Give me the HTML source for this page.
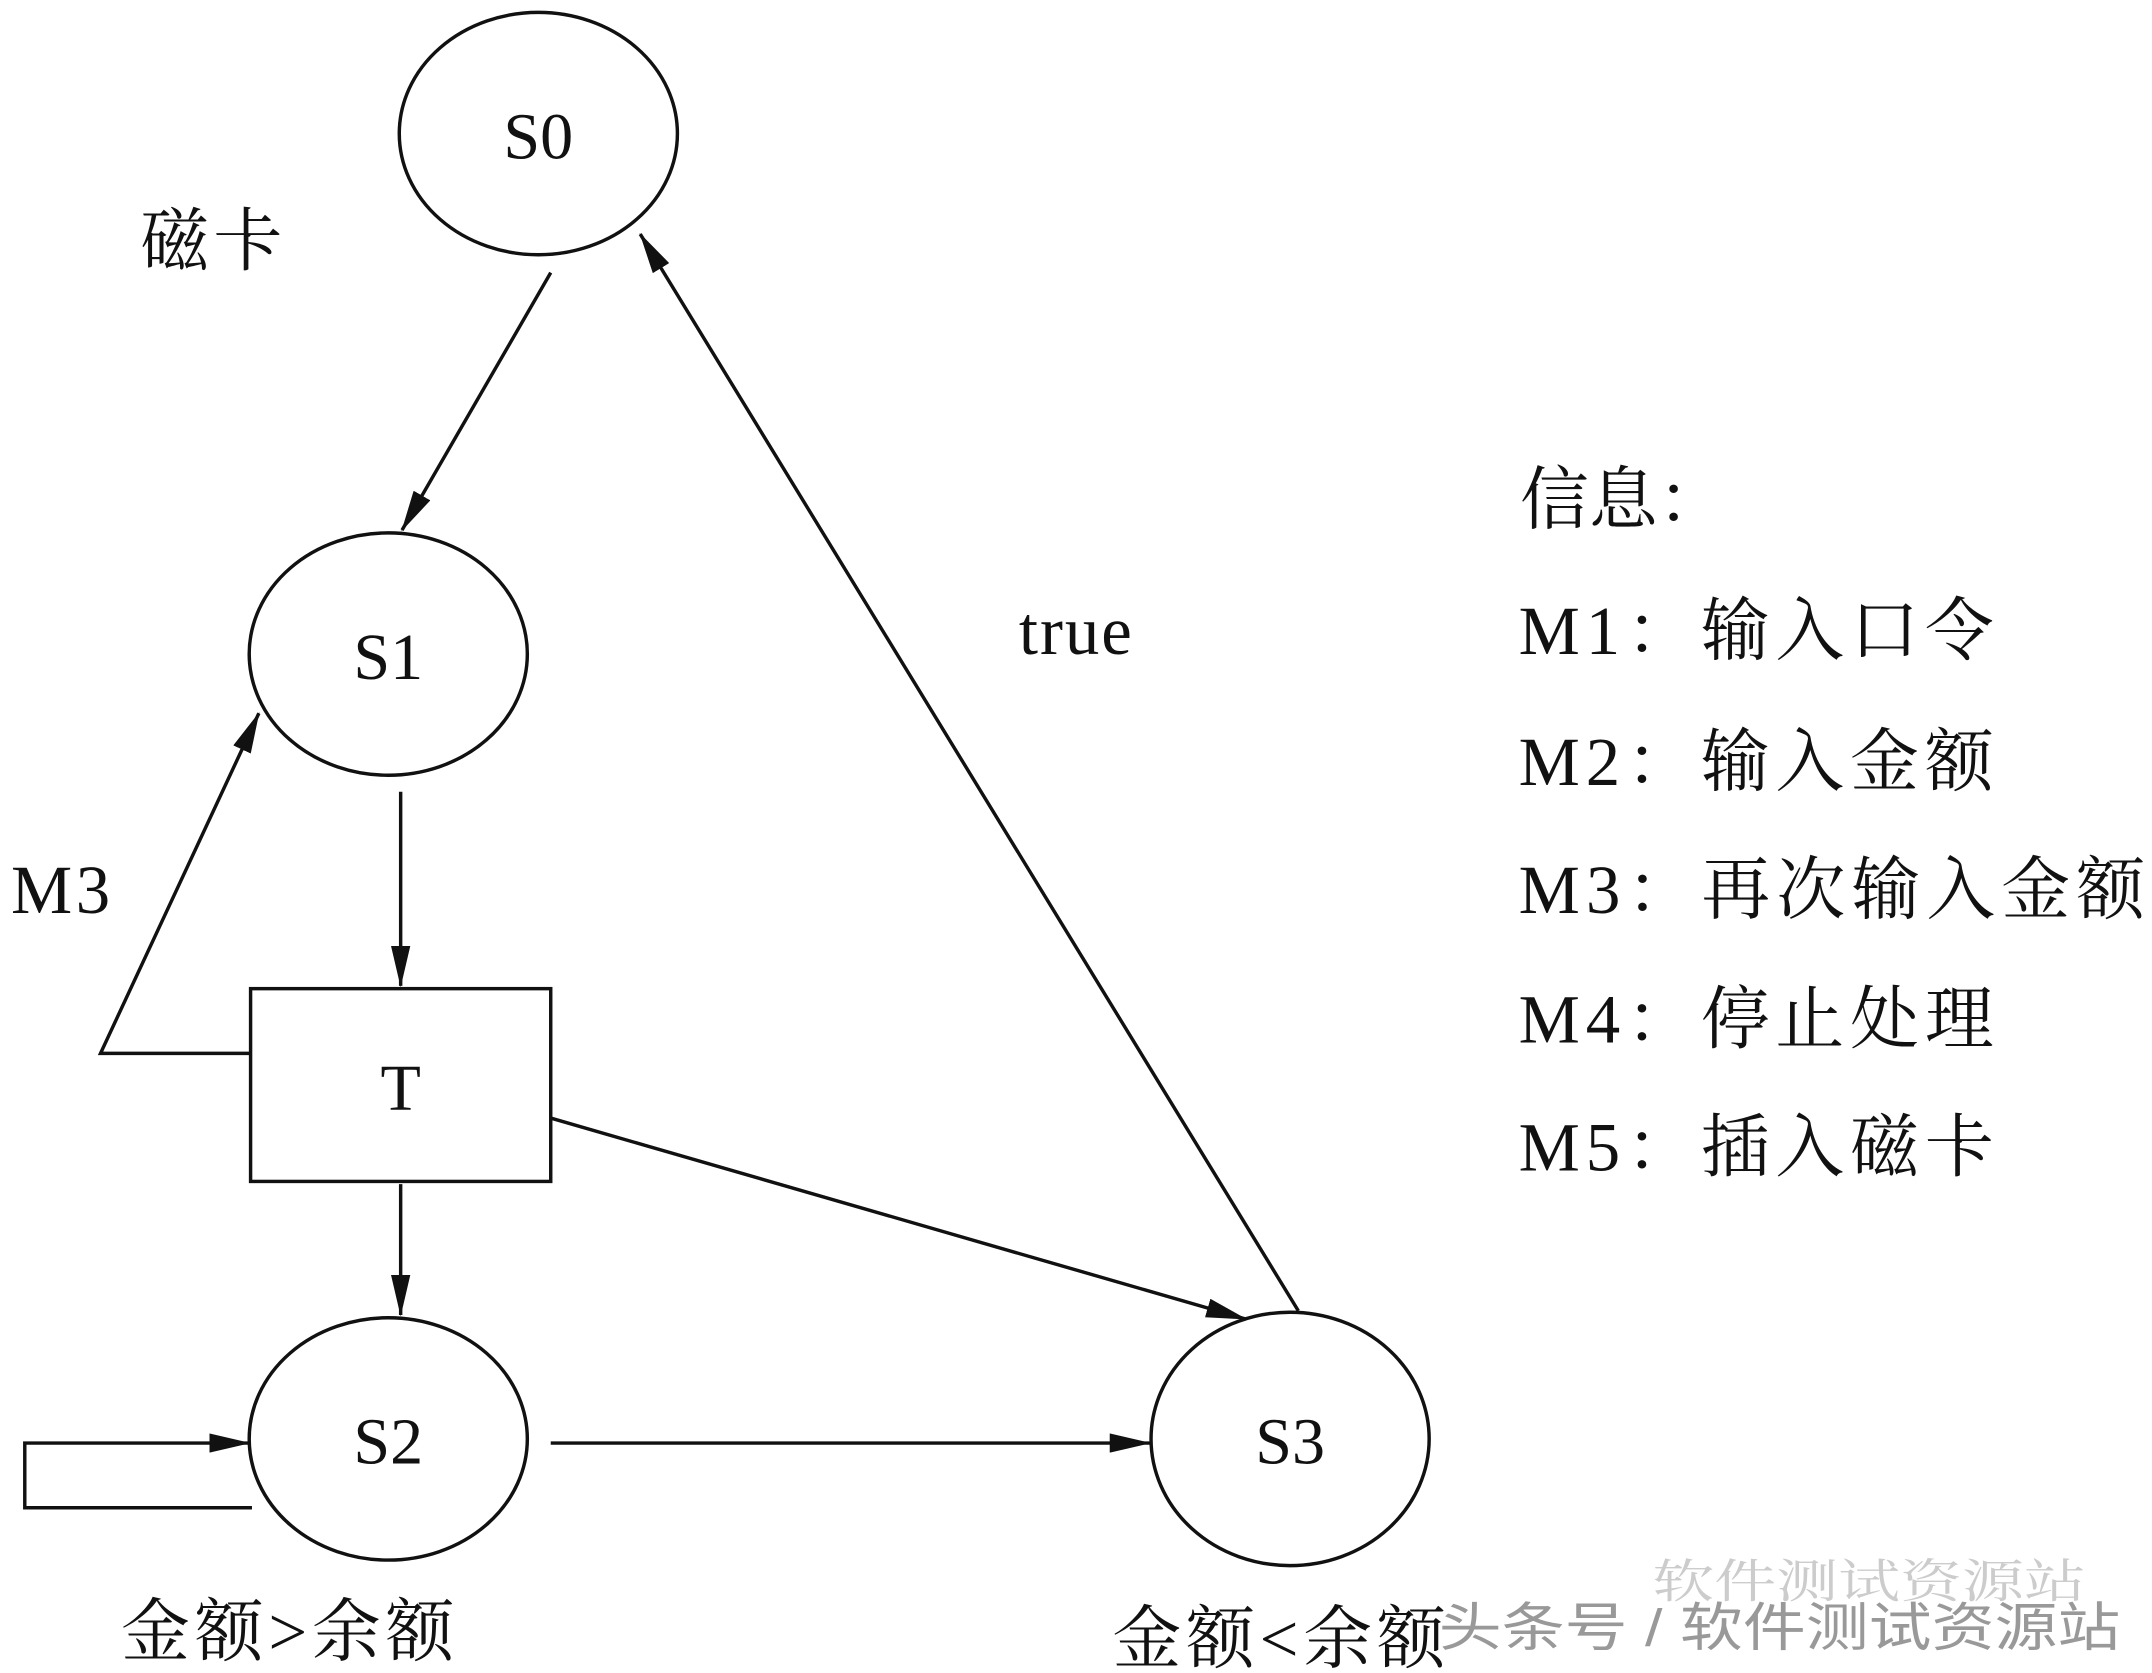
<!DOCTYPE html>
<html><head><meta charset="utf-8">
<style>
html,body{margin:0;padding:0;background:#fff;}
svg{display:block;}
text{font-family:"Liberation Serif","Noto Serif CJK SC",serif;fill:#111;}
</style></head>
<body>
<svg width="2152" height="1673" viewBox="0 0 1563 1215" preserveAspectRatio="none" xmlns="http://www.w3.org/2000/svg">
<defs>
<marker id="a" markerWidth="30" markerHeight="14" refX="29" refY="7" orient="auto" markerUnits="userSpaceOnUse">
<path d="M0,0 L30,7 L0,14 Z" fill="#111"/>
</marker>
</defs>
<g stroke="#111" stroke-width="2.5" fill="none">
<ellipse cx="391" cy="97" rx="101" ry="88"/>
<ellipse cx="282" cy="475" rx="101" ry="88"/>
<rect x="182" y="718" width="218" height="140"/>
<ellipse cx="282" cy="1045" rx="101" ry="88"/>
<ellipse cx="937" cy="1045" rx="101" ry="92"/>
<line x1="400" y1="198" x2="292" y2="385" marker-end="url(#a)"/>
<line x1="291" y1="575" x2="291" y2="716" marker-end="url(#a)"/>
<line x1="291" y1="860" x2="291" y2="955" marker-end="url(#a)"/>
<polyline points="182,765 73,765 188,518" marker-end="url(#a)"/>
<line x1="400" y1="812" x2="905" y2="958" marker-end="url(#a)"/>
<line x1="943" y1="952" x2="465" y2="170" marker-end="url(#a)"/>
<line x1="400" y1="1048" x2="835" y2="1048" marker-end="url(#a)"/>
<polyline points="183,1095 18,1095 18,1048 181,1048" marker-end="url(#a)"/>
</g>
<g font-size="48" text-anchor="middle">
<text x="391" y="115">S0</text>
<text x="282" y="493">S1</text>
<text x="291" y="806">T</text>
<text x="282" y="1063">S2</text>
<text x="937" y="1063">S3</text>
</g>
<g font-size="50" lengthAdjust="spacingAndGlyphs">
<text x="102" y="192" textLength="103">磁卡</text>
<text x="740" y="475" textLength="82">true</text>
<text x="8" y="663" textLength="72">M3</text>
<text x="1104" y="380">信息：</text>
<text x="1103" y="475" textLength="345">M1：输入口令</text>
<text x="1103" y="570" textLength="345">M2：输入金额</text>
<text x="1103" y="663" textLength="455">M3：再次输入金额</text>
<text x="1103" y="757" textLength="345">M4：停止处理</text>
<text x="1103" y="850" textLength="345">M5：插入磁卡</text>
<text x="88" y="1202" textLength="242">金额&gt;余额</text>
<text x="808" y="1207" textLength="242">金额&lt;余额</text>
</g>
<text x="1200" y="1160" font-size="34" textLength="315" lengthAdjust="spacingAndGlyphs" style="fill:#ccc">软件测试资源站</text>
<text x="1045" y="1195" font-size="38" textLength="495" lengthAdjust="spacingAndGlyphs" style="fill:#999;font-family:'Liberation Sans','Noto Sans CJK SC',sans-serif">头条号 / 软件测试资源站</text>
</svg>
</body></html>
